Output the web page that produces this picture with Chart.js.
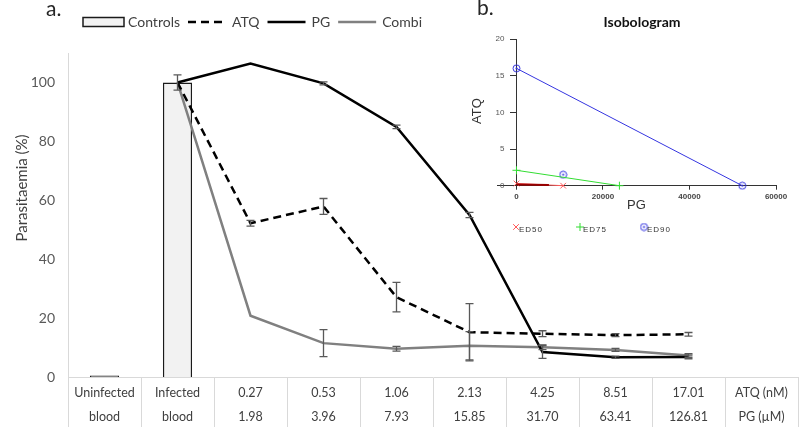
<!DOCTYPE html>
<html>
<head>
<meta charset="utf-8">
<script src="https://cdn.jsdelivr.net/npm/chart.js@4.4.1/dist/chart.umd.min.js"></script>
<style>
  html, body { margin:0; padding:0; background:#fff; }
  #wrap { position:relative; width:800px; height:427px; overflow:hidden; }
  #main { position:absolute; left:0; top:0; }
  #inset { position:absolute; left:455px; top:0; }
</style>
</head>
<body>
<div id="wrap">
  <canvas id="main" width="800" height="427"></canvas>
  <canvas id="inset" width="345" height="245"></canvas>
</div>
<script>
// ---------- Main chart data ----------
const categories = [
  ['Uninfected','blood'], ['Infected','blood'], ['0.27','1.98'], ['0.53','3.96'],
  ['1.06','7.93'], ['2.13','15.85'], ['4.25','31.70'], ['8.51','63.41'],
  ['17.01','126.81'], ['ATQ (nM)','PG (µM)']
];
const controls    = [0.5, 100, null, null, null, null, null, null, null, null];
const controlsErr = [0, 2.6, null, null, null, null, null, null, null, null];
const atq    = [null, 100, 52.2, 57.9, 27.1, 15.2, 14.7, 14.2, 14.5, null];
const atqErr = [null, 0, 1.0, 2.7, 5.0, 9.7, 1.0, 0.5, 0.6, null];
const pg     = [null, 100, 106.4, 99.7, 84.9, 55.0, 8.5, 6.7, 6.8, null];
const pgErr  = [null, 0, 0, 0.5, 0.6, 0.9, 2.2, 0.4, 0.6, null];
const combi    = [null, 100, 20.8, 11.5, 9.6, 10.6, 10.1, 9.2, 7.3, null];
const combiErr = [null, 0, 0, 4.6, 0.8, 4.8, 0.8, 0.5, 0.6, null];
const yTicks = [0, 20, 40, 60, 80, 100];
const yTitle = 'Parasitaemia (%)';

// ---------- Isobologram data ----------
const ed50PG = [0, 10800],  ed50ATQ = [0.3, 0];
const ed50ComboPG = [0, 7500], ed50ComboATQ = [0.15, 0.1];
const ed75PG = [0, 23800],  ed75ATQ = [2.1, 0];
const ed90PG = [0, 52200],  ed90ATQ = [16, 0];
const ed90ComboPG = [10800], ed90ComboATQ = [1.5];
const isoXTicks = [0, 20000, 40000, 60000];
const isoYTicks = [0, 5, 10, 15, 20];

const pts = (xs, ys) => xs.map((x, i) => ({x: x, y: ys[i]}));

// ---------- plugins ----------
const errorBars = {
  id: 'errorBars',
  afterDatasetsDraw(chart) {
    const ctx = chart.ctx, xs = chart.scales.x, ys = chart.scales.y;
    ctx.save();
    ctx.strokeStyle = '#595959';
    ctx.lineWidth = 1.3;
    ctx.setLineDash([]);
    chart.data.datasets.forEach(ds => {
      if (!ds.errors) return;
      ds.data.forEach((v, i) => {
        const e = ds.errors[i];
        if (v == null || !e) return;
        const px = xs.getPixelForValue(i);
        const t = ys.getPixelForValue(v + e), b = ys.getPixelForValue(v - e);
        ctx.beginPath();
        ctx.moveTo(px, t); ctx.lineTo(px, b);
        ctx.moveTo(px - 4, t); ctx.lineTo(px + 4, t);
        ctx.moveTo(px - 4, b); ctx.lineTo(px + 4, b);
        ctx.stroke();
      });
    });
    ctx.restore();
  }
};

const mainDecor = {
  id: 'mainDecor',
  afterDraw(chart) {
    const ctx = chart.ctx;
    ctx.save();
    ctx.fillStyle = '#262626';
    ctx.font = '21px Lato';
    ctx.textBaseline = 'alphabetic';
    ctx.textAlign = 'left';
    ctx.fillText('a.', 46, 16);
    ctx.restore();

    ctx.save();
    ctx.translate(22, 188);
    ctx.rotate(-Math.PI / 2);
    ctx.textAlign = 'center';
    ctx.textBaseline = 'middle';
    ctx.font = '15px Lato';
    ctx.fillStyle = '#404040';
    ctx.fillText(yTitle, 0, 0);
    ctx.restore();

    // legend
    ctx.save();
    ctx.font = '14px Lato';
    ctx.textBaseline = 'middle';
    ctx.textAlign = 'left';
    let x = 83; const y = 22;
    chart.data.datasets.forEach(ds => {
      if (ds.type === 'bar') {
        ctx.fillStyle = '#f2f2f2';
        ctx.fillRect(x, y - 4.5, 41, 9);
        ctx.strokeStyle = ds.borderColor; ctx.lineWidth = 1.5; ctx.setLineDash([]);
        ctx.strokeRect(x, y - 4.5, 41, 9);
        x += 45;
      } else {
        ctx.strokeStyle = ds.borderColor; ctx.lineWidth = ds.borderWidth;
        ctx.setLineDash(ds.borderDash || []);
        ctx.beginPath(); ctx.moveTo(x, y); ctx.lineTo(x + 38, y); ctx.stroke();
        ctx.setLineDash([]);
        x += 44;
      }
      ctx.fillStyle = '#404040';
      ctx.fillText(ds.label, x, y);
      x += ctx.measureText(ds.label).width + 8;
    });
    ctx.restore();
  }
};

// ---------- main chart ----------
new Chart(document.getElementById('main'), {
  data: {
    labels: categories,
    datasets: [
      { type:'bar', label:'Controls', data: controls, errors: controlsErr,
        backgroundColor:['#6f6f6f', '#f2f2f2'], borderColor:'#1a1a1a', borderWidth:1.5,
        barPercentage:0.4, categoryPercentage:1, order:3 },
      { type:'line', label:'ATQ', data: atq, errors: atqErr, borderColor:'#000', borderDash:[8,5],
        borderWidth:2.5, pointRadius:0, fill:false, tension:0, spanGaps:false, order:1 },
      { type:'line', label:'PG', data: pg, errors: pgErr, borderColor:'#000',
        borderWidth:2.5, pointRadius:0, fill:false, tension:0, order:2 },
      { type:'line', label:'Combi', data: combi, errors: combiErr, borderColor:'#808080',
        borderWidth:2.5, pointRadius:0, fill:false, tension:0, order:2 }
    ]
  },
  options: {
    responsive:false, animation:false,
    layout:{ padding:{ top:53, right:2, left:0, bottom:0 } },
    plugins:{ legend:{ display:false }, tooltip:{ enabled:false } },
    scales:{
      x:{
        type:'category', offset:true,
        grid:{ offset:true, drawOnChartArea:false, drawTicks:true, tickLength:52, color:'#d9d9d9', lineWidth:1 },
        border:{ color:'#d9d9d9' },
        ticks:{ font:{ family:'Lato', size:12.5, lineHeight:1.896 }, color:'#404040', padding:-48, maxRotation:0, autoSkip:false },
        afterFit: s => { s.height = 50; }
      },
      y:{
        min:0, max:110,
        afterBuildTicks: s => { s.ticks = yTicks.map(v => ({ value:v })); },
        ticks:{ font:{ family:'Lato', size:14 }, color:'#595959', padding:13 },
        grid:{ display:false, drawTicks:false },
        border:{ display:true, color:'#d9d9d9' },
        afterFit: s => { s.width = 68; }
      }
    }
  },
  plugins:[errorBars, mainDecor]
});

// ---------- isobologram ----------
function circleDot(color) {
  const c = document.createElement('canvas');
  c.width = 9; c.height = 9;
  const g = c.getContext('2d');
  g.strokeStyle = color; g.fillStyle = color; g.lineWidth = 1;
  g.beginPath(); g.arc(4.5, 4.5, 3.5, 0, Math.PI * 2); g.stroke();
  g.beginPath(); g.arc(4.5, 4.5, 1.1, 0, Math.PI * 2); g.fill();
  return c;
}
const blueDot = circleDot('#3535e0');

const insetDecor = {
  id: 'insetDecor',
  afterDraw(chart) {
    const ctx = chart.ctx;
    const ca = chart.chartArea;
    ctx.save();
    ctx.fillStyle = '#262626';
    ctx.font = '21px Lato';
    ctx.textAlign = 'left'; ctx.textBaseline = 'alphabetic';
    ctx.fillText('b.', 22, 15);
    ctx.font = 'bold 14px Lato';
    ctx.textAlign = 'center'; ctx.textBaseline = 'middle';
    ctx.fillStyle = '#111';
    ctx.fillText('Isobologram', 187, 22);
    ctx.font = '13px "Liberation Sans"';
    ctx.fillStyle = '#333';
    ctx.fillText('PG', (ca.left + ca.right) / 2, 205);
    ctx.save();
    ctx.translate(22, 111);
    ctx.rotate(-Math.PI / 2);
    ctx.fillText('ATQ', 0, 0);
    ctx.restore();
    // legend
    const items = chart.data.datasets.filter(d => d.label);
    let x = 61;
    items.forEach(ds => {
      ctx.strokeStyle = ds.borderColor; ctx.fillStyle = ds.borderColor; ctx.lineWidth = 1;
      Chart.helpers.drawPoint(ctx, { pointStyle: ds.pointStyle, radius: 4, borderWidth: 1, rotation: 0 }, x, 227);
      ctx.fillStyle = '#333';
      ctx.font = '8px "Liberation Sans"';
      ctx.letterSpacing = '1px';
      ctx.textAlign = 'left';
      ctx.fillText(ds.label, x + 3, 230);
      ctx.letterSpacing = '0px';
      x += 64;
    });
    ctx.restore();
  }
};

new Chart(document.getElementById('inset'), {
  type:'scatter',
  data:{
    datasets:[
      { label:'', data: pts(ed50ComboPG, ed50ComboATQ), showLine:true, borderColor:'#990000',
        borderWidth:2, pointRadius:0, clip:false },
      { label:'ED50', data: pts(ed50PG, ed50ATQ), showLine:true, borderColor:'#ff5a5a', backgroundColor:'#ff5a5a',
        borderWidth:1, pointStyle:'crossRot', pointRadius:4, pointBorderWidth:1, clip:false },
      { label:'ED75', data: pts(ed75PG, ed75ATQ), showLine:true, borderColor:'#33dd33', backgroundColor:'#33dd33',
        borderWidth:1, pointStyle:'cross', pointRadius:4, pointBorderWidth:1, clip:false },
      { label:'ED90', data: pts(ed90PG, ed90ATQ), showLine:true, borderColor:'#3535e0', backgroundColor:'#3535e0',
        borderWidth:1, pointStyle: blueDot, pointRadius:4, clip:false },
      { label:'', data: pts(ed90ComboPG, ed90ComboATQ), showLine:false, borderColor:'#3535e0',
        pointStyle: blueDot, pointRadius:4, clip:false }
    ]
  },
  options:{
    responsive:false, animation:false,
    layout:{ padding:{ left:42, right:24, top:39, bottom:0 } },
    plugins:{ legend:{ display:false }, tooltip:{ enabled:false } },
    scales:{
      x:{
        type:'linear', min:-4500, max:60000,
        afterBuildTicks: s => { s.ticks = isoXTicks.map(v => ({ value:v })); },
        grid:{ drawOnChartArea:false, tickLength:4, color:'#333' },
        border:{ color:'#333' },
        ticks:{ font:{ family:'Liberation Sans', size:8, weight:'bold' }, color:'#444', padding:2,
                callback: v => String(v), maxRotation:0 },
        afterFit: s => { s.height = 59.3; }
      },
      y:{
        type:'linear', min:0, max:20, position:{ x:0 },
        afterBuildTicks: s => { s.ticks = isoYTicks.map(v => ({ value:v })); },
        grid:{ drawOnChartArea:false, tickLength:6, color:'#333' },
        border:{ color:'#333' },
        ticks:{ font:{ family:'Liberation Sans', size:8 }, color:'#555', callback: v => String(v) + '\u2003\u2002' }
      }
    }
  },
  plugins:[insetDecor]
});
</script>
</body>
</html>
